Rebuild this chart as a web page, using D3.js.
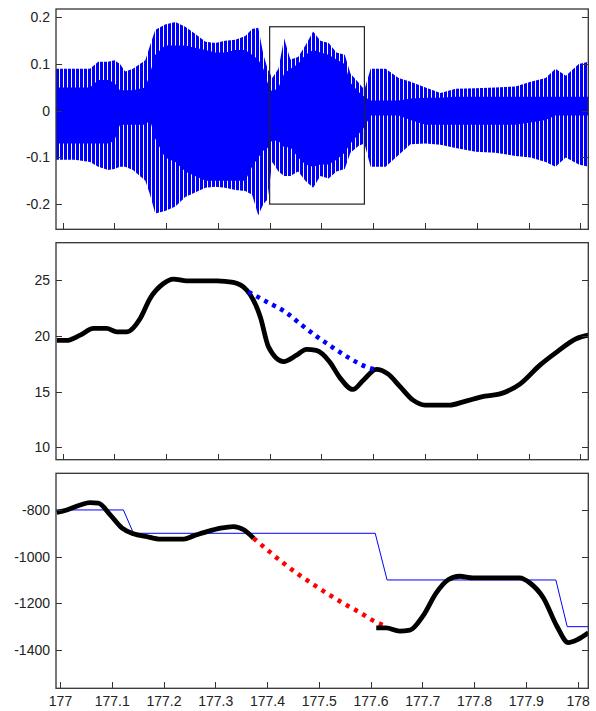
<!DOCTYPE html>
<html>
<head>
<meta charset="utf-8">
<script src="https://cdn.jsdelivr.net/npm/d3@7"></script>
<style>
  body { margin: 0; background: #fff; }
  .axis text { font-family: "Liberation Sans", Arial, sans-serif; font-size: 14px; fill: #222; }
  .axis line { stroke: #333; shape-rendering: crispEdges; }
</style>
</head>
<body>
<script>
// --- top panel: waveform envelope (time, outer peaks, solid core) ---
var waveT = [176.987, 177.024, 177.053, 177.069, 177.088, 177.1, 177.111, 177.121, 177.136, 177.16,
             177.169, 177.179, 177.198, 177.218, 177.237, 177.256, 177.276, 177.295, 177.314, 177.334,
             177.353, 177.366, 177.378, 177.388, 177.396, 177.405, 177.417, 177.428, 177.44, 177.455,
             177.469, 177.484, 177.498, 177.514, 177.529, 177.545, 177.556, 177.572, 177.583, 177.595,
             177.624, 177.649, 177.672, 177.701, 177.73, 177.759, 177.798, 177.836, 177.875, 177.904,
             177.933, 177.952, 177.972, 177.997, 178.016];
var waveHi = [0.09, 0.09, 0.09, 0.105, 0.105, 0.108, 0.1, 0.084, 0.09, 0.108,
              0.14, 0.173, 0.185, 0.19, 0.18, 0.165, 0.148, 0.145, 0.15, 0.152,
              0.16, 0.175, 0.178, 0.12, 0.09, 0.07, 0.09, 0.155, 0.11, 0.115,
              0.14, 0.17, 0.15, 0.145, 0.125, 0.12, 0.08, 0.06, 0.045, 0.09,
              0.09, 0.07, 0.062, 0.05, 0.038, 0.047, 0.048, 0.05, 0.052, 0.062,
              0.07, 0.09, 0.075, 0.1, 0.105];
var waveLo = [-0.105, -0.105, -0.11, -0.12, -0.127, -0.125, -0.12, -0.12, -0.127, -0.15,
              -0.18, -0.22, -0.215, -0.205, -0.185, -0.175, -0.165, -0.163, -0.165, -0.17,
              -0.172, -0.18, -0.224, -0.2, -0.19, -0.11, -0.13, -0.14, -0.14, -0.13,
              -0.15, -0.165, -0.14, -0.145, -0.13, -0.125, -0.09, -0.075, -0.07, -0.12,
              -0.12, -0.095, -0.072, -0.07, -0.073, -0.08, -0.088, -0.09, -0.097, -0.1,
              -0.11, -0.12, -0.1, -0.115, -0.12];
var coreHi = [0.05, 0.05, 0.05, 0.066, 0.066, 0.06, 0.044, 0.044, 0.044, 0.05,
              0.08, 0.12, 0.14, 0.14, 0.14, 0.135, 0.13, 0.125, 0.125, 0.13,
              0.13, 0.12, 0.11, 0.09, 0.06, 0.04, 0.05, 0.08, 0.09, 0.1,
              0.12, 0.13, 0.125, 0.12, 0.11, 0.1, 0.06, 0.04, 0.03, 0.022,
              0.022, 0.022, 0.026, 0.028, 0.028, 0.03, 0.03, 0.03, 0.03, 0.03,
              0.03, 0.03, 0.03, 0.03, 0.03];
var coreLo = [-0.07, -0.07, -0.07, -0.07, -0.07, -0.065, -0.03, -0.03, -0.03, -0.03,
              -0.02, -0.06, -0.1, -0.11, -0.13, -0.14, -0.15, -0.15, -0.15, -0.15,
              -0.15, -0.12, -0.1, -0.085, -0.08, -0.063, -0.065, -0.078, -0.078, -0.1,
              -0.115, -0.12, -0.115, -0.115, -0.105, -0.09, -0.07, -0.05, -0.035, -0.01,
              -0.01, -0.01, -0.02, -0.03, -0.03, -0.03, -0.03, -0.03, -0.03, -0.025,
              -0.02, -0.01, -0.01, -0.01, -0.01];
// zoom box drawn on the waveform
var boxT = [177.4, 177.583];
var boxV = [-0.2, 0.18];

// --- middle panel: pitch track and interpolated gap ---
var pitchT = [176.989, 177.008, 177.034, 177.06, 177.085, 177.105, 177.124, 177.15, 177.169, 177.195,
              177.214, 177.24, 177.298, 177.33, 177.356, 177.382, 177.398, 177.427, 177.452, 177.471,
              177.49, 177.516, 177.535, 177.561, 177.581, 177.606, 177.629, 177.651, 177.677, 177.7,
              177.748, 177.774, 177.816, 177.845, 177.884, 177.922, 177.955, 177.993, 178.016];
var pitchV = [19.6, 19.6, 20.07, 20.67, 20.67, 20.36, 20.36, 21.56, 23.36, 24.7,
              25.1, 24.94, 24.94, 24.8, 24.1, 21.7, 19.0, 17.7, 18.27, 18.8,
              18.7, 17.67, 16.3, 15.2, 16.03, 17.0, 16.57, 15.5, 14.24, 13.8,
              13.8, 14.09, 14.6, 14.8, 15.7, 17.38, 18.57, 19.77, 20.07];
var gapT = [177.359, 177.395, 177.43, 177.46, 177.49, 177.522, 177.555, 177.587, 177.61];
var gapV = [23.95, 23.05, 22.16, 21.05, 19.98, 18.96, 17.98, 17.22, 16.93];

// --- bottom panel: step reference, contour and interpolated gap ---
var refT = [176.9923, 177.1225, 177.142, 177.609, 177.632, 177.958, 177.98, 178.0207];
var refV = [-800, -800, -900, -900, -1100, -1100, -1300, -1300];
var contourT1 = [176.9936, 177.013, 177.039, 177.058, 177.074, 177.097, 177.12, 177.142, 177.168, 177.194,
                 177.239, 177.258, 177.284, 177.31, 177.335, 177.355, 177.374];
var contourV1 = [-811, -800, -779, -769, -771, -821, -878, -902, -914, -925,
                 -925, -911, -893, -878, -871, -885, -921];
var contourT2 = [177.611, 177.63, 177.656, 177.676, 177.701, 177.727, 177.75, 177.772, 177.798, 177.888,
                 177.908, 177.934, 177.96, 177.982, 178.001, 178.021];
var contourV2 = [-1305, -1305, -1319, -1315, -1255, -1155, -1099, -1084, -1091, -1091,
                 -1113, -1177, -1298, -1368, -1354, -1326];
var fillT = [177.374, 177.4, 177.43, 177.46, 177.49, 177.52, 177.55, 177.58, 177.61, 177.624];
var fillV = [-921, -970, -1025, -1075, -1120, -1163, -1203, -1240, -1280, -1293];

// --- ticks ---
var xTicks = [177, 177.1, 177.2, 177.3, 177.4, 177.5, 177.6, 177.7, 177.8, 177.9, 178];
var yTicksTop = [0.2, 0.1, 0, -0.1, -0.2];
var yTicksMid = [25, 20, 15, 10];
var yTicksBot = [-800, -1000, -1200, -1400];

// sizes
var breedte = 596, hoogte = 711;
var links = 56, rechts = 588.3;

var svg = d3.select("body").append("svg")
    .attr("width", breedte)
    .attr("height", hoogte);
var defs = svg.append("defs");

// stripes for the pitch pulses between core and peaks
var patroon = defs.append("pattern")
    .attr("id", "strepen")
    .attr("patternUnits", "userSpaceOnUse")
    .attr("width", 4)
    .attr("height", 8);
patroon.append("rect")
    .attr("width", 3)
    .attr("height", 8)
    .attr("fill", "#0000ff");

// panels: vertical extents and domains
var panelen = [
  {id: "p1", top: 9, bottom: 229.3, xDom: [176.9874, 178.0154], yDom: [-0.254, 0.218], ticks: yTicksTop, xLabels: false},
  {id: "p2", top: 242.7, bottom: 459.7, xDom: [176.9874, 178.0154], yDom: [8.9, 28.36], ticks: yTicksMid, xLabels: false},
  {id: "p3", top: 473.3, bottom: 688.3, xDom: [176.9923, 178.0207], yDom: [-1564, -643], ticks: yTicksBot, xLabels: true}
];

panelen.forEach(function(p) {
  p.x = d3.scaleLinear().domain(p.xDom).range([links, rechts]);
  p.y = d3.scaleLinear().domain(p.yDom).range([p.bottom, p.top]);
  defs.append("clipPath").attr("id", "clip-" + p.id)
    .append("rect")
    .attr("x", links).attr("y", p.top)
    .attr("width", rechts - links).attr("height", p.bottom - p.top);
  p.g = svg.append("g").attr("clip-path", "url(#clip-" + p.id + ")");
});

function zip(t, v) {
  return t.map(function(d, i) { return [d, v[i]]; });
}

// top panel: waveform
var p1 = panelen[0];
var golf = waveT.map(function(d, i) {
  return {t: d, hi: waveHi[i], lo: waveLo[i], ch: coreHi[i], cl: coreLo[i]};
});
p1.g.append("path")
    .datum(golf)
    .attr("fill", "url(#strepen)")
    .attr("d", d3.area()
      .x(function(d) { return p1.x(d.t); })
      .y0(function(d) { return p1.y(d.lo); })
      .y1(function(d) { return p1.y(d.hi); }));
p1.g.append("path")
    .datum(golf)
    .attr("fill", "#0000ff")
    .attr("d", d3.area()
      .x(function(d) { return p1.x(d.t); })
      .y0(function(d) { return p1.y(d.cl); })
      .y1(function(d) { return p1.y(d.ch); }));
p1.g.append("rect")
    .attr("x", p1.x(boxT[0]))
    .attr("y", p1.y(boxV[1]))
    .attr("width", p1.x(boxT[1]) - p1.x(boxT[0]))
    .attr("height", p1.y(boxV[0]) - p1.y(boxV[1]))
    .attr("fill", "none")
    .attr("stroke", "#222")
    .attr("stroke-width", 1.2);

// middle panel: pitch
var p2 = panelen[1];
var lijn2 = d3.line()
    .curve(d3.curveMonotoneX)
    .x(function(d) { return p2.x(d[0]); })
    .y(function(d) { return p2.y(d[1]); });
p2.g.append("path")
    .datum(zip(pitchT, pitchV))
    .attr("fill", "none")
    .attr("stroke", "#000")
    .attr("stroke-width", 4.8)
    .attr("stroke-linejoin", "round")
    .attr("d", lijn2);
p2.g.append("path")
    .datum(zip(gapT, gapV))
    .attr("fill", "none")
    .attr("stroke", "#0000ff")
    .attr("stroke-width", 4.5)
    .attr("stroke-dasharray", "4 5")
    .attr("d", lijn2);

// bottom panel
var p3 = panelen[2];
var lijn3 = d3.line()
    .curve(d3.curveMonotoneX)
    .x(function(d) { return p3.x(d[0]); })
    .y(function(d) { return p3.y(d[1]); });
var trap = d3.line()
    .x(function(d) { return p3.x(d[0]); })
    .y(function(d) { return p3.y(d[1]); });
p3.g.append("path")
    .datum(zip(refT, refV))
    .attr("fill", "none")
    .attr("stroke", "#0000ff")
    .attr("stroke-width", 1)
    .attr("d", trap);
p3.g.append("path")
    .datum(zip(fillT, fillV))
    .attr("fill", "none")
    .attr("stroke", "#ff0000")
    .attr("stroke-width", 4.5)
    .attr("stroke-dasharray", "4 5.5")
    .attr("d", lijn3);
[zip(contourT1, contourV1), zip(contourT2, contourV2)].forEach(function(stuk) {
  p3.g.append("path")
      .datum(stuk)
      .attr("fill", "none")
      .attr("stroke", "#000")
      .attr("stroke-width", 4.8)
      .attr("stroke-linejoin", "round")
      .attr("d", lijn3);
});

// axes and frames
panelen.forEach(function(p) {
  var asL = svg.append("g")
      .attr("class", "axis")
      .attr("transform", "translate(" + links + ",0)")
      .call(d3.axisLeft(p.y).tickValues(p.ticks).tickSize(-6).tickSizeOuter(0).tickPadding(6)
        .tickFormat(function(d) { return String(d); }));
  asL.select(".domain").remove();

  var asR = svg.append("g")
      .attr("class", "axis")
      .attr("transform", "translate(" + rechts + ",0)")
      .call(d3.axisRight(p.y).tickValues(p.ticks).tickSize(-6).tickSizeOuter(0).tickFormat(""));
  asR.select(".domain").remove();

  var asB = svg.append("g")
      .attr("class", "axis")
      .attr("transform", "translate(0," + p.bottom + ")")
      .call(d3.axisBottom(p.x).tickValues(xTicks).tickSize(-6).tickSizeOuter(0).tickPadding(8)
        .tickFormat(function(d) { return p.xLabels ? String(d) : ""; }));
  asB.select(".domain").remove();

  svg.append("rect")
      .attr("x", links)
      .attr("y", p.top)
      .attr("width", rechts - links)
      .attr("height", p.bottom - p.top)
      .attr("fill", "none")
      .attr("stroke", "#333")
      .attr("stroke-width", 1.3);
});
</script>
</body>
</html>
